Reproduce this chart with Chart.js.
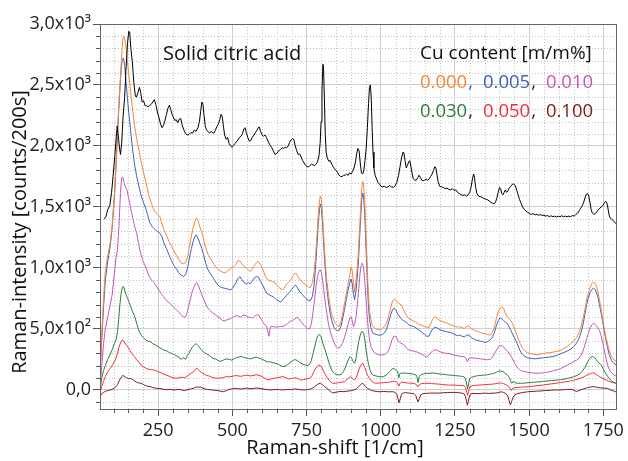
<!DOCTYPE html>
<html lang="en">
<head>
    <meta charset="UTF-8">
    <title>Raman spectra - solid citric acid</title>
    <script src="https://cdn.jsdelivr.net/npm/chart.js"></script>
    <style>
        html, body { margin: 0; padding: 0; background: #fff; }
        canvas { display: block; }
    </style>
</head>
<body>
<canvas id="ramanChart" width="628" height="461"></canvas>
<script>
    // --- data: [Raman shift (1/cm), intensity (counts/200s)] ---
    const citric = [
        [68,1400],[74,1420],[80,1480],[87,1510],[93,1620],[98,1750],[104,1920],[109,2080],[112,2165],[115,2100],[119,2000],[123,1930],[127,2020],[132,2250],[137,2400],[142,2650],[147,2850],[151,2940],[154,2935],[158,2800],[163,2690],[168,2520],[173,2410],[177,2400],[182,2440],[187,2480],[191,2440],[196,2360],[201,2370],[206,2330],[211,2330],[215,2320],[220,2330],[226,2340],[232,2360],[237,2380],[242,2340],[248,2270],[253,2230],[258,2180],[263,2150],[268,2170],[273,2210],[278,2260],[283,2310],[288,2335],[292,2300],[297,2260],[302,2230],[306,2210],[311,2215],[316,2190],[321,2220],[326,2225],[331,2170],[337,2130],[343,2100],[348,2090],[354,2095],[360,2110],[366,2105],[372,2130],[378,2120],[384,2150],[389,2200],[393,2280],[397,2360],[401,2340],[405,2240],[409,2160],[413,2130],[418,2120],[423,2105],[428,2120],[433,2110],[438,2105],[443,2130],[448,2160],[453,2180],[458,2220],[462,2260],[466,2240],[470,2160],[474,2090],[479,2055],[484,2070],[489,2020],[494,2000],[499,1990],[504,2005],[509,2020],[514,2035],[519,2050],[524,2070],[529,2080],[534,2100],[539,2140],[543,2150],[547,2110],[552,2070],[557,2040],[562,2045],[567,2070],[573,2090],[578,2110],[583,2130],[587,2150],[591,2155],[595,2120],[600,2090],[605,2080],[610,2090],[615,2070],[620,2040],[626,2010],[632,1990],[638,1960],[644,1930],[650,1940],[656,1960],[662,1970],[668,1985],[673,1980],[678,1990],[683,1985],[688,2000],[693,2030],[698,2050],[703,2060],[707,2055],[712,2000],[717,1960],[722,1930],[727,1935],[732,1910],[737,1880],[742,1860],[747,1840],[752,1830],[757,1830],[762,1840],[767,1850],[772,1845],[777,1840],[782,1850],[787,1870],[792,1920],[796,2030],[799,2200],[802,2450],[805,2670],[807,2660],[810,2400],[813,2100],[816,1950],[820,1900],[825,1875],[830,1880],[835,1850],[840,1830],[845,1810],[850,1800],[855,1780],[860,1760],[865,1750],[870,1750],[875,1760],[880,1760],[885,1770],[890,1760],[895,1780],[900,1770],[905,1790],[910,1820],[915,1870],[919,1940],[923,1980],[927,1960],[931,1860],[935,1780],[939,1770],[943,1800],[947,1880],[951,1980],[955,2150],[959,2350],[962,2480],[965,2500],[968,2400],[971,2150],[974,1950],[977,1820],[981,1760],[986,1730],[991,1700],[996,1685],[1001,1670],[1006,1665],[1012,1670],[1018,1660],[1024,1665],[1030,1675],[1036,1665],[1042,1660],[1048,1670],[1054,1700],[1060,1760],[1065,1830],[1070,1900],[1075,1950],[1078,1945],[1082,1880],[1086,1820],[1090,1840],[1094,1870],[1098,1880],[1102,1830],[1106,1770],[1110,1730],[1115,1720],[1120,1720],[1125,1740],[1129,1760],[1133,1745],[1138,1720],[1143,1715],[1148,1720],[1153,1730],[1158,1720],[1163,1730],[1168,1750],[1173,1770],[1178,1800],[1182,1830],[1186,1820],[1190,1760],[1194,1700],[1199,1670],[1205,1665],[1211,1660],[1217,1650],[1223,1655],[1229,1645],[1235,1640],[1241,1650],[1247,1635],[1253,1640],[1259,1620],[1265,1610],[1271,1600],[1277,1595],[1283,1600],[1289,1590],[1295,1600],[1300,1620],[1305,1670],[1309,1730],[1313,1770],[1316,1740],[1320,1660],[1324,1610],[1329,1590],[1335,1585],[1341,1580],[1347,1570],[1353,1565],[1359,1560],[1365,1550],[1371,1540],[1377,1530],[1382,1525],[1387,1540],[1392,1580],[1396,1620],[1400,1660],[1404,1650],[1408,1610],[1412,1600],[1416,1620],[1420,1640],[1424,1620],[1428,1630],[1433,1655],[1438,1670],[1443,1685],[1448,1690],[1453,1675],[1458,1640],[1463,1600],[1468,1560],[1473,1530],[1478,1500],[1484,1480],[1490,1465],[1496,1455],[1502,1445],[1508,1440],[1514,1445],[1520,1435],[1526,1440],[1532,1432],[1538,1438],[1544,1430],[1550,1432],[1556,1425],[1562,1430],[1568,1420],[1574,1428],[1580,1420],[1586,1425],[1592,1418],[1598,1425],[1604,1420],[1610,1428],[1616,1420],[1622,1425],[1628,1420],[1634,1425],[1640,1420],[1646,1430],[1652,1425],[1658,1440],[1664,1450],[1669,1470],[1674,1490],[1679,1510],[1684,1540],[1689,1580],[1693,1605],[1697,1610],[1701,1590],[1705,1540],[1709,1480],[1713,1450],[1718,1440],[1723,1445],[1728,1460],[1733,1475],[1738,1490],[1743,1500],[1748,1510],[1753,1530],[1757,1545],[1761,1540],[1765,1500],[1769,1440],[1773,1410],[1778,1400],[1783,1390],[1788,1375],[1793,1365],[1798,1360]
    ];
    const cu000 = [
        [55,150],[60,450],[66,750],[72,980],[80,1100],[88,1200],[95,1350],[103,1620],[108,1850],[113,2130],[120,2450],[126,2700],[131,2880],[134,2900],[138,2870],[142,2800],[148,2650],[154,2520],[159,2400],[165,2270],[171,2160],[176,2080],[183,1990],[192,1880],[200,1790],[209,1700],[218,1600],[226,1540],[233,1490],[240,1460],[248,1440],[256,1420],[262,1370],[270,1310],[278,1270],[286,1220],[295,1180],[303,1140],[312,1100],[320,1070],[328,1040],[336,1035],[343,1045],[350,1100],[356,1190],[362,1260],[368,1330],[374,1380],[379,1410],[384,1390],[390,1340],[396,1300],[402,1250],[408,1180],[414,1140],[420,1100],[428,1070],[436,1040],[444,1010],[452,990],[460,975],[468,965],[476,960],[484,975],[491,990],[497,1000],[504,1010],[512,1030],[519,1060],[526,1055],[533,1030],[540,1010],[547,1000],[554,985],[560,970],[567,990],[574,1020],[580,1040],[587,1055],[594,1030],[600,1000],[607,960],[613,920],[620,905],[627,895],[634,890],[642,885],[650,860],[657,840],[664,830],[670,820],[677,845],[684,870],[692,890],[699,910],[706,940],[713,960],[719,940],[726,910],[733,890],[740,875],[748,860],[756,845],[763,840],[770,880],[776,980],[781,1120],[786,1300],[790,1450],[794,1560],[797,1590],[800,1560],[804,1440],[808,1250],[813,1050],[818,900],[824,780],[830,680],[836,610],[842,570],[848,545],[854,525],[860,520],[866,560],[872,630],[878,710],[884,790],[890,870],[896,950],[900,1010],[904,980],[908,880],[912,800],[916,880],[920,980],[924,1100],[928,1280],[932,1480],[936,1650],[939,1710],[942,1690],[946,1550],[950,1300],[954,1050],[958,800],[962,650],[967,580],[972,530],[978,510],[985,500],[992,495],[999,495],[1006,505],[1013,520],[1020,550],[1027,610],[1034,680],[1040,730],[1046,745],[1052,735],[1058,715],[1064,705],[1070,695],[1076,660],[1083,630],[1090,600],[1097,580],[1104,575],[1111,565],[1118,555],[1125,545],[1132,535],[1140,530],[1148,520],[1155,515],[1162,510],[1168,540],[1175,580],[1182,600],[1189,590],[1196,575],[1203,565],[1210,560],[1218,550],[1226,545],[1234,535],[1242,530],[1250,520],[1258,515],[1266,520],[1274,510],[1282,505],[1290,520],[1297,525],[1304,505],[1312,495],[1320,485],[1328,480],[1336,470],[1344,465],[1352,460],[1360,455],[1368,450],[1376,470],[1383,520],[1390,590],[1396,640],[1402,670],[1408,680],[1414,670],[1420,630],[1426,600],[1432,590],[1438,570],[1444,545],[1450,510],[1456,470],[1463,420],[1470,380],[1478,340],[1486,320],[1494,305],[1502,300],[1510,295],[1520,290],[1530,290],[1540,295],[1550,300],[1560,305],[1570,305],[1580,310],[1590,315],[1600,320],[1610,330],[1620,345],[1630,360],[1640,380],[1650,400],[1660,430],[1668,470],[1675,520],[1682,590],[1688,660],[1694,740],[1700,800],[1706,845],[1712,875],[1717,885],[1722,875],[1727,850],[1732,800],[1737,740],[1742,670],[1747,600],[1752,520],[1758,440],[1764,380],[1770,320],[1778,275],[1787,245],[1797,230]
    ];
    const cu005 = [
        [55,200],[60,420],[66,680],[72,900],[80,1050],[88,1170],[95,1330],[103,1600],[108,1830],[113,2100],[120,2420],[125,2620],[129,2710],[133,2720],[137,2660],[142,2520],[148,2350],[154,2200],[159,2080],[165,1950],[171,1840],[177,1760],[184,1680],[192,1600],[200,1540],[208,1490],[215,1430],[222,1370],[230,1340],[238,1320],[246,1300],[254,1290],[262,1260],[270,1200],[278,1160],[286,1110],[295,1060],[303,1020],[312,990],[320,960],[328,940],[336,930],[343,950],[350,1010],[356,1090],[362,1160],[368,1220],[374,1260],[379,1270],[385,1240],[391,1200],[397,1160],[403,1110],[410,1040],[417,990],[424,960],[432,930],[440,900],[448,870],[456,850],[464,840],[472,835],[480,830],[488,825],[495,820],[502,840],[510,870],[518,910],[525,930],[532,905],[540,880],[547,870],[554,880],[560,870],[567,890],[574,920],[581,930],[588,925],[595,890],[602,860],[610,820],[617,790],[624,780],[632,770],[640,760],[648,740],[656,730],[663,720],[670,740],[677,760],[684,780],[692,800],[699,820],[706,845],[713,860],[719,840],[726,810],[733,790],[740,770],[748,750],[756,735],[763,730],[770,770],[776,870],[781,1030],[786,1220],[790,1380],[794,1490],[797,1525],[800,1490],[804,1370],[808,1180],[813,990],[818,840],[824,720],[830,620],[836,560],[842,515],[848,495],[854,485],[860,490],[866,520],[872,590],[878,660],[884,740],[890,820],[896,880],[900,910],[904,870],[908,790],[912,740],[916,800],[920,900],[924,1020],[928,1200],[932,1400],[936,1560],[939,1615],[942,1590],[946,1450],[950,1200],[954,950],[958,720],[962,580],[967,510],[972,470],[978,460],[985,455],[992,450],[999,450],[1006,455],[1013,470],[1020,500],[1027,560],[1034,620],[1040,660],[1046,670],[1052,650],[1058,620],[1064,600],[1070,580],[1076,570],[1083,560],[1090,545],[1097,530],[1104,525],[1111,520],[1118,510],[1125,500],[1132,485],[1140,470],[1148,455],[1155,440],[1162,440],[1168,470],[1175,500],[1182,515],[1189,510],[1196,500],[1203,490],[1210,485],[1218,480],[1226,475],[1234,470],[1242,465],[1250,455],[1258,445],[1266,450],[1274,440],[1282,435],[1290,450],[1297,450],[1304,430],[1312,420],[1320,410],[1328,405],[1336,400],[1344,395],[1352,390],[1360,395],[1368,410],[1376,430],[1383,470],[1390,530],[1396,570],[1402,590],[1408,585],[1414,570],[1420,555],[1426,545],[1432,520],[1438,490],[1444,460],[1450,430],[1456,400],[1463,360],[1470,320],[1478,290],[1486,275],[1494,265],[1502,260],[1510,258],[1520,255],[1530,258],[1540,262],[1550,265],[1560,268],[1570,270],[1580,275],[1590,280],[1600,290],[1610,300],[1620,310],[1630,320],[1640,335],[1650,355],[1660,385],[1668,420],[1675,470],[1682,540],[1688,620],[1694,700],[1700,760],[1706,800],[1712,825],[1717,833],[1722,825],[1727,800],[1732,760],[1737,700],[1742,640],[1747,570],[1752,500],[1758,420],[1764,350],[1770,290],[1778,240],[1787,215],[1797,200]
    ];
    const cu010 = [
        [55,50],[60,200],[66,380],[72,500],[80,600],[88,690],[95,780],[102,950],[108,1080],[113,1150],[118,1350],[123,1620],[127,1740],[131,1745],[135,1700],[140,1660],[145,1640],[150,1580],[155,1520],[160,1460],[166,1390],[172,1330],[178,1280],[184,1200],[190,1130],[197,1070],[204,1030],[212,980],[220,930],[228,900],[236,880],[244,850],[252,820],[260,790],[268,765],[276,740],[285,720],[293,700],[302,680],[310,660],[318,640],[326,620],[334,600],[340,595],[346,620],[352,680],[358,740],[364,800],[370,840],[376,870],[380,880],[385,860],[391,820],[397,780],[404,740],[411,700],[418,670],[426,650],[434,630],[442,620],[450,600],[458,590],[466,570],[474,565],[482,575],[490,580],[497,590],[505,600],[513,610],[520,605],[528,595],[536,615],[544,610],[552,600],[560,595],[567,590],[574,600],[581,615],[588,615],[595,590],[602,560],[609,535],[615,525],[620,480],[623,440],[626,490],[630,520],[638,519],[646,515],[655,518],[663,520],[670,520],[678,530],[686,545],[694,560],[702,570],[710,580],[718,595],[724,585],[731,560],[738,540],[745,520],[752,505],[760,500],[766,540],[772,640],[777,740],[782,850],[787,930],[792,975],[796,985],[800,965],[804,900],[808,820],[813,720],[818,630],[824,540],[830,480],[836,430],[842,390],[848,360],[854,345],[860,345],[866,360],[872,390],[878,430],[884,480],[890,540],[896,590],[900,600],[904,570],[908,520],[912,540],[917,600],[921,700],[926,830],[930,950],[934,1020],[938,1040],[942,1010],[946,900],[950,760],[954,620],[958,500],[963,400],[968,350],[974,320],[980,305],[987,295],[995,287],[1003,287],[1011,290],[1019,300],[1026,320],[1032,360],[1038,410],[1044,440],[1050,440],[1055,420],[1060,400],[1066,385],[1072,380],[1078,370],[1085,350],[1092,330],[1100,325],[1108,320],[1116,315],[1124,310],[1132,300],[1140,290],[1148,280],[1155,270],[1162,285],[1170,310],[1178,325],[1186,330],[1194,320],[1202,310],[1210,305],[1220,300],[1230,300],[1240,290],[1250,285],[1260,280],[1270,275],[1280,272],[1287,260],[1292,232],[1297,255],[1304,265],[1312,262],[1320,260],[1328,258],[1336,255],[1344,252],[1352,250],[1360,248],[1368,250],[1376,265],[1384,300],[1392,335],[1399,360],[1406,365],[1413,355],[1420,335],[1428,315],[1436,290],[1444,255],[1452,215],[1460,185],[1468,165],[1477,155],[1486,150],[1496,145],[1508,140],[1520,138],[1532,137],[1545,140],[1558,145],[1570,150],[1582,158],[1594,165],[1606,175],[1618,190],[1630,205],[1642,220],[1652,235],[1660,245],[1668,260],[1675,285],[1682,320],[1688,370],[1694,420],[1700,470],[1706,510],[1712,535],[1717,548],[1722,540],[1727,525],[1732,505],[1737,490],[1742,450],[1748,390],[1754,320],[1760,250],[1765,200],[1772,160],[1780,135],[1790,118],[1797,110]
    ];
    const cu030 = [
        [55,20],[60,100],[66,160],[72,200],[80,250],[88,290],[95,330],[102,380],[108,410],[113,480],[117,580],[121,700],[125,790],[129,840],[133,850],[137,820],[142,780],[147,750],[152,720],[158,680],[164,640],[170,610],[176,560],[182,510],[188,470],[194,445],[200,430],[208,410],[216,400],[224,395],[232,380],[240,370],[248,360],[256,345],[264,335],[272,325],[280,320],[288,305],[296,300],[304,290],[312,280],[320,270],[326,250],[332,260],[337,265],[342,250],[348,280],[354,300],[360,330],[366,355],[372,370],[378,380],[384,365],[390,345],[396,330],[403,310],[410,300],[418,290],[426,275],[434,260],[442,255],[450,245],[458,235],[466,240],[474,250],[482,255],[490,250],[498,245],[506,255],[514,265],[522,270],[530,275],[538,268],[546,262],[554,258],[562,255],[570,262],[578,270],[586,265],[594,258],[602,250],[610,240],[618,230],[626,232],[634,225],[642,220],[650,215],[658,205],[666,195],[674,190],[682,200],[690,215],[698,230],[706,245],[714,248],[722,235],[730,220],[738,210],[746,205],[754,200],[760,210],[766,240],[772,300],[778,360],[783,410],[788,445],[793,455],[798,440],[803,400],[808,360],[814,320],[820,270],[826,220],[832,180],[838,150],[844,135],[850,128],[856,125],[862,123],[868,130],[874,150],[880,180],[886,220],[892,255],[897,273],[902,260],[908,230],[912,219],[917,260],[921,330],[926,400],[931,450],[935,475],[939,480],[943,460],[947,400],[951,320],[955,260],[959,210],[964,160],[970,130],[976,120],[984,115],[992,110],[1000,108],[1010,110],[1020,125],[1030,150],[1037,170],[1042,178],[1048,170],[1054,160],[1058,140],[1061,100],[1064,130],[1070,140],[1078,138],[1087,137],[1095,135],[1103,133],[1110,130],[1118,125],[1122,110],[1126,60],[1130,110],[1136,125],[1144,132],[1153,137],[1162,135],[1172,140],[1182,138],[1192,133],[1202,130],[1212,128],[1222,125],[1232,122],[1242,120],[1252,118],[1262,115],[1272,112],[1280,110],[1286,90],[1290,40],[1293,10],[1296,50],[1300,95],[1306,105],[1314,110],[1322,115],[1330,118],[1340,120],[1350,122],[1360,125],[1370,130],[1380,135],[1390,145],[1398,155],[1405,155],[1412,150],[1420,135],[1428,120],[1434,100],[1438,70],[1442,55],[1446,70],[1452,60],[1460,55],[1470,55],[1480,55],[1490,58],[1500,60],[1515,63],[1530,66],[1545,70],[1560,73],[1575,77],[1590,80],[1605,84],[1620,90],[1635,98],[1650,108],[1662,120],[1672,135],[1680,155],[1688,185],[1695,220],[1702,250],[1708,268],[1714,275],[1720,268],[1726,250],[1732,230],[1738,215],[1744,200],[1750,170],[1757,140],[1765,110],[1775,80],[1785,62],[1797,55]
    ];
    const cu050 = [
        [55,-20],[60,30],[66,70],[72,110],[80,150],[88,175],[95,200],[102,230],[108,260],[113,300],[118,350],[123,385],[127,405],[131,410],[135,395],[140,375],[146,360],[152,335],[158,310],[164,290],[170,273],[177,250],[184,230],[192,205],[200,190],[208,180],[216,170],[224,168],[232,165],[240,160],[250,150],[260,140],[270,128],[280,120],[290,110],[300,100],[310,96],[320,100],[330,105],[338,100],[346,110],[354,125],[362,140],[370,150],[376,170],[381,178],[386,165],[392,150],[398,140],[405,130],[413,120],[421,115],[430,105],[440,98],[450,96],[460,98],[470,102],[480,110],[490,108],[500,112],[510,118],[520,115],[530,112],[540,118],[550,122],[560,115],[570,118],[580,125],[590,120],[600,110],[610,95],[620,82],[630,90],[640,95],[650,100],[660,105],[670,110],[680,100],[690,90],[700,95],[710,100],[720,95],[730,82],[740,85],[750,90],[760,95],[768,115],[775,150],[781,180],[787,195],[792,205],[797,200],[802,180],[808,150],[814,125],[820,100],[826,80],[832,65],[838,55],[846,55],[854,58],[862,62],[870,65],[878,68],[886,85],[893,100],[898,110],[903,100],[908,85],[912,82],[917,100],[922,130],[927,170],[932,200],[937,219],[941,215],[946,185],[951,150],[956,120],[962,95],[968,75],[975,62],[983,55],[992,56],[1002,58],[1012,60],[1022,62],[1032,65],[1040,70],[1046,72],[1052,68],[1057,55],[1061,30],[1064,50],[1070,65],[1078,62],[1087,58],[1096,56],[1105,55],[1114,52],[1120,45],[1125,25],[1130,45],[1138,52],[1148,54],[1160,55],[1172,52],[1184,50],[1196,48],[1208,45],[1220,42],[1232,40],[1244,40],[1256,38],[1268,36],[1280,34],[1286,20],[1290,-20],[1293,-45],[1296,-10],[1300,25],[1308,35],[1318,38],[1330,40],[1342,42],[1354,44],[1366,46],[1378,48],[1388,52],[1398,56],[1406,58],[1414,52],[1422,42],[1430,30],[1436,14],[1440,-5],[1444,12],[1450,18],[1460,20],[1470,22],[1485,25],[1500,27],[1515,32],[1530,36],[1545,40],[1560,45],[1575,50],[1590,55],[1605,60],[1620,66],[1635,72],[1650,80],[1662,88],[1672,95],[1682,105],[1692,118],[1700,128],[1708,135],[1714,140],[1720,137],[1726,128],[1732,118],[1738,108],[1745,100],[1752,90],[1760,80],[1770,70],[1780,62],[1790,57],[1797,55]
    ];
    const cu100 = [
        [55,-50],[60,-30],[66,-20],[72,-10],[80,-5],[88,0],[95,5],[102,15],[108,27],[113,45],[118,70],[123,95],[127,110],[131,118],[135,115],[140,105],[146,98],[152,90],[158,96],[164,85],[170,75],[177,65],[184,58],[192,55],[200,45],[208,35],[216,30],[224,27],[232,20],[240,15],[250,12],[260,10],[270,5],[280,2],[290,5],[300,0],[310,2],[320,5],[330,0],[338,-5],[346,0],[354,5],[362,10],[370,14],[378,25],[385,22],[392,25],[400,15],[408,8],[416,5],[424,2],[432,0],[440,-3],[450,-5],[460,-10],[470,-14],[480,-5],[490,5],[500,10],[510,14],[520,10],[530,8],[540,12],[550,15],[560,10],[570,12],[580,16],[590,14],[600,10],[610,5],[620,2],[630,0],[640,3],[650,5],[660,2],[670,0],[680,2],[690,5],[700,3],[710,8],[720,6],[730,2],[740,0],[750,2],[760,5],[768,12],[776,25],[784,40],[791,52],[797,55],[803,45],[810,28],[818,14],[826,0],[832,-15],[838,-25],[846,-20],[856,-15],[866,-12],[876,-14],[886,-10],[894,-8],[902,-5],[910,0],[918,10],[925,25],[931,40],[937,55],[942,48],[948,30],[955,15],[962,5],[970,-5],[980,-10],[990,-14],[1000,-14],[1010,-12],[1020,-14],[1030,-15],[1040,-14],[1048,-18],[1054,-35],[1058,-70],[1062,-105],[1066,-70],[1070,-35],[1076,-25],[1084,-22],[1094,-25],[1104,-28],[1112,-30],[1118,-45],[1122,-75],[1126,-98],[1130,-70],[1135,-40],[1142,-30],[1152,-28],[1164,-26],[1176,-25],[1188,-26],[1200,-25],[1212,-22],[1224,-22],[1236,-20],[1248,-20],[1260,-22],[1272,-25],[1280,-30],[1285,-50],[1289,-90],[1292,-125],[1295,-95],[1299,-50],[1305,-30],[1315,-28],[1327,-30],[1340,-28],[1352,-26],[1364,-28],[1375,-27],[1388,-25],[1398,-20],[1406,-15],[1414,-20],[1422,-30],[1428,-50],[1433,-90],[1437,-123],[1441,-95],[1446,-60],[1452,-40],[1460,-30],[1470,-25],[1480,-20],[1495,-15],[1510,-12],[1525,-10],[1540,-8],[1555,-5],[1570,-3],[1585,0],[1600,0],[1615,2],[1630,5],[1645,5],[1660,-14],[1668,-5],[1678,5],[1688,12],[1698,20],[1708,25],[1716,27],[1724,25],[1732,20],[1740,18],[1750,15],[1763,14],[1775,0],[1787,-10],[1797,-20]
    ];

    const seriesNames = ['citric acid', '0.000', '0.005', '0.010', '0.030', '0.050', '0.100'];
    const seriesData = [citric, cu000, cu005, cu010, cu030, cu050, cu100];
    const seriesColors = ['#000000', '#f7853a', '#3f5fbd', '#c656b6', '#2b7d3c', '#f0303a', '#7a1c1c'];

    const xTickValues = [250, 500, 750, 1000, 1250, 1500, 1750];
    const yTickValues = [0, 500, 1000, 1500, 2000, 2500, 3000];
    const yTickLabels = ['0,0', '5,0x10\u00b2', '1,0x10\u00b3', '1,5x10\u00b3', '2,0x10\u00b3', '2,5x10\u00b3', '3,0x10\u00b3'];

    const FONT = "'Open Sans', 'DejaVu Sans', sans-serif";
    Chart.defaults.font.family = FONT;
    Chart.defaults.color = '#222';

    // dotted minor grid + minor tick marks + closing box
    const minorGrid = {
        id: 'minorGrid',
        beforeDatasetsDraw(chart) {
            const {ctx, chartArea: a, scales: {x, y}} = chart;
            ctx.save();
            ctx.strokeStyle = '#c4c4c4';
            ctx.lineWidth = 1;
            ctx.setLineDash([1, 2]);
            for (let v = Math.ceil(x.min / 50) * 50; v <= x.max; v += 50) {
                if (v % 250 === 0) continue;
                const px = Math.round(x.getPixelForValue(v)) + 0.5;
                ctx.beginPath(); ctx.moveTo(px, a.top); ctx.lineTo(px, a.bottom); ctx.stroke();
            }
            for (let v = Math.ceil(y.min / 100) * 100; v <= y.max; v += 100) {
                if (v % 500 === 0) continue;
                const py = Math.round(y.getPixelForValue(v)) + 0.5;
                ctx.beginPath(); ctx.moveTo(a.left, py); ctx.lineTo(a.right, py); ctx.stroke();
            }
            ctx.setLineDash([]);
            ctx.strokeStyle = '#555';
            for (let v = Math.ceil(x.min / 50) * 50; v <= x.max; v += 50) {
                if (v % 250 === 0) continue;
                const px = Math.round(x.getPixelForValue(v)) + 0.5;
                ctx.beginPath(); ctx.moveTo(px, a.bottom); ctx.lineTo(px, a.bottom + 4); ctx.stroke();
            }
            for (let v = Math.ceil(y.min / 100) * 100; v <= y.max; v += 100) {
                if (v % 500 === 0) continue;
                const py = Math.round(y.getPixelForValue(v)) + 0.5;
                ctx.beginPath(); ctx.moveTo(a.left - 4, py); ctx.lineTo(a.left, py); ctx.stroke();
            }
            ctx.restore();
        },
        afterDraw(chart) {
            const {ctx, chartArea: a} = chart;
            ctx.save();
            ctx.strokeStyle = '#666';
            ctx.lineWidth = 1;
            ctx.strokeRect(Math.round(a.left) + 0.5, Math.round(a.top) + 0.5,
                Math.round(a.right - a.left), Math.round(a.bottom - a.top));
            ctx.restore();
        }
    };

    // axis titles and the in-plot notes
    const notes = {
        id: 'notes',
        afterDraw(chart) {
            const ctx = chart.ctx;
            ctx.save();
            ctx.fillStyle = '#111';
            ctx.textBaseline = 'middle';

            ctx.font = '20px ' + FONT;
            ctx.textAlign = 'center';
            ctx.fillText('Raman-shift [1/cm]', 335, 448);

            ctx.save();
            ctx.translate(20, 232);
            ctx.rotate(-Math.PI / 2);
            ctx.fillText('Raman-intensity [counts/200s]', 0, 0);
            ctx.restore();

            ctx.textAlign = 'left';
            ctx.font = '20px ' + FONT;
            ctx.fillText('Solid citric acid', 163, 54);

            ctx.font = '19px ' + FONT;
            ctx.fillText('Cu content [m/m%]', 420, 54);

            // each entry: [text, colour index, comma colour index (-1 = none, 0 = dark)]
            const rows = [
                {yy: 83, parts: [['0.000', 1, 2], ['0.005', 2, 0], ['0.010', 3, -1]]},
                {yy: 112, parts: [['0.030', 4, 0], ['0.050', 5, 0], ['0.100', 6, -1]]}
            ];
            ctx.font = '18.5px ' + FONT;
            rows.forEach(r => {
                let xx = 420;
                r.parts.forEach(([txt, ci, commaCi]) => {
                    ctx.fillStyle = seriesColors[ci];
                    ctx.fillText(txt, xx, r.yy);
                    xx += ctx.measureText(txt).width;
                    if (commaCi >= 0) {
                        ctx.fillStyle = commaCi === 0 ? '#222' : seriesColors[commaCi];
                        ctx.fillText(',', xx + 1, r.yy);
                        xx += ctx.measureText(',').width + 11;
                    }
                });
            });
            ctx.restore();
        }
    };

    const datasets = seriesData.map((pts, i) => ({
        label: seriesNames[i],
        data: pts.map(p => ({x: p[0], y: p[1]})),
        borderColor: seriesColors[i],
        borderWidth: 1,
        pointRadius: 0,
        tension: 0,
        fill: false
    }));

    new Chart(document.getElementById('ramanChart').getContext('2d'), {
        type: 'line',
        data: {datasets: datasets},
        options: {
            responsive: false,
            animation: false,
            devicePixelRatio: 1,
            layout: {padding: {top: 24, right: 5, left: 0, bottom: 0}},
            plugins: {legend: {display: false}, tooltip: {enabled: false}},
            scales: {
                x: {
                    type: 'linear',
                    min: 54,
                    max: 1793,
                    afterFit: s => { s.height = 52; },
                    afterBuildTicks: s => { s.ticks = xTickValues.map(v => ({value: v})); },
                    grid: {color: '#cfcfcf', tickColor: '#555', tickLength: 7},
                    border: {color: '#666'},
                    ticks: {font: {size: 18}, color: '#222', padding: 4, maxRotation: 0, autoSkip: false,
                        callback: v => String(v)}
                },
                y: {
                    type: 'linear',
                    min: -156,
                    max: 3000,
                    afterFit: s => { s.width = 100; },
                    grid: {color: '#cfcfcf', tickColor: '#555', tickLength: 7},
                    border: {color: '#666'},
                    afterBuildTicks: s => { s.ticks = yTickValues.map(v => ({value: v})); },
                    ticks: {
                        font: {size: 18},
                        color: '#222',
                        padding: 2,
                        callback: v => yTickLabels[yTickValues.indexOf(v)]
                    }
                }
            }
        },
        plugins: [minorGrid, notes]
    });
</script>
</body>
</html>
